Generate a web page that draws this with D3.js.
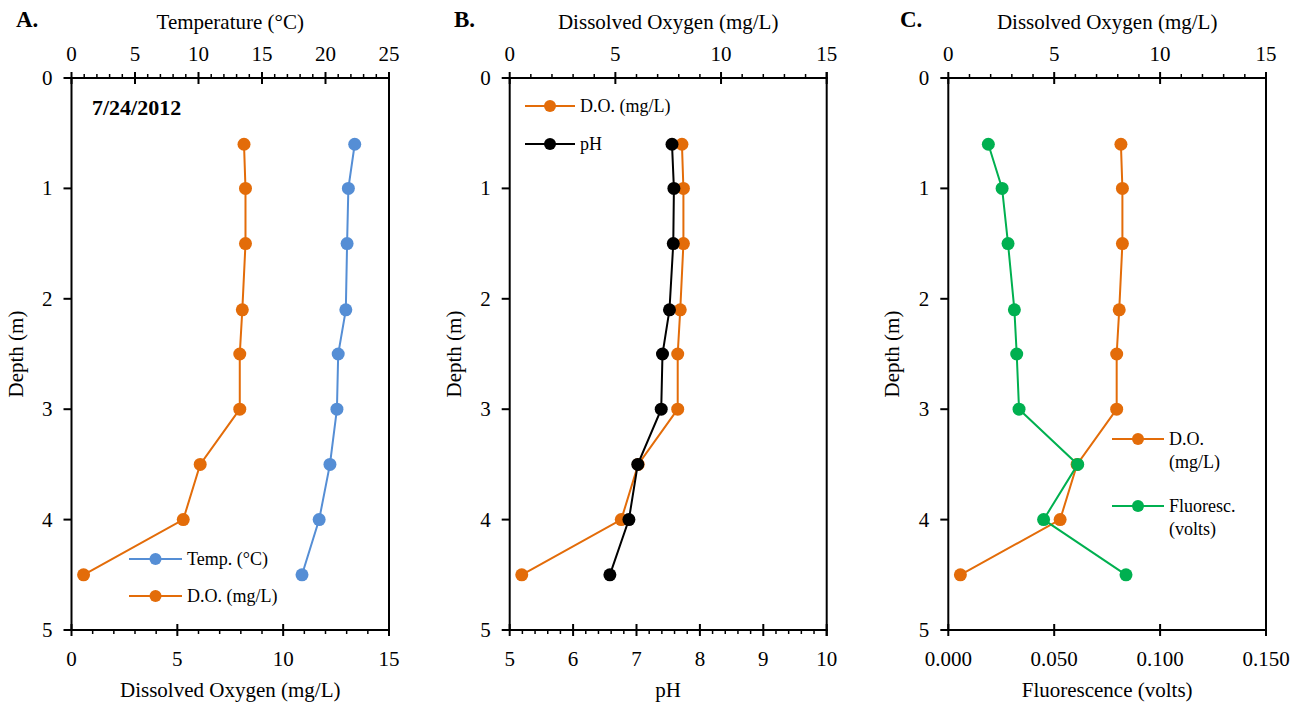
<!DOCTYPE html>
<html>
<head>
<meta charset="utf-8">
<script src="https://cdn.jsdelivr.net/npm/d3@7"></script>
<style>
  html, body { margin: 0; padding: 0; background: #fff; }
  svg { display: block; }
  svg text { font-family: 'Liberation Serif', 'DejaVu Serif', serif; }
</style>
</head>
<body>
<svg id="chart" width="1305" height="705" font-family="Liberation Serif, DejaVu Serif, serif"></svg>
<script>
// ---------- DATA ----------
const depth = [0.6, 1.0, 1.5, 2.1, 2.5, 3.0, 3.5, 4.0, 4.5];
const temperature = [22.3, 21.8, 21.7, 21.6, 21.0, 20.9, 20.35, 19.5, 18.15];
const dissolvedOxygen = [8.15, 8.22, 8.22, 8.07, 7.95, 7.95, 6.08, 5.28, 0.57];
const pH = [7.56, 7.59, 7.58, 7.52, 7.41, 7.39, 7.02, 6.88, 6.58];
const fluorescence = [0.0189, 0.0254, 0.0282, 0.0312, 0.0323, 0.0334, 0.0611, 0.0450, 0.0839];

const depthTicks = [0, 1, 2, 3, 4, 5];
const tempTicks = [0, 5, 10, 15, 20, 25];
const doTicks = [0, 5, 10, 15];
const pHTicks = [5, 6, 7, 8, 9, 10];
const fluorTicks = [0, 0.05, 0.10, 0.15];
const dateLabel = "7/24/2012";

const COLORS = { temp: "#558ED5", do: "#E36C09", ph: "#000000", fluor: "#00B050" };

// ---------- LAYOUT ----------
const svg = d3.select("#chart");
const plotTop = 78, plotBottom = 630;
const panels = [
  { left: 71.5, right: 389 },
  { left: 509.7, right: 826.7 },
  { left: 948.3, right: 1266 }
];
const yScale = d3.scaleLinear().domain([0, 5]).range([plotTop, plotBottom]);
const FS = 21, LFS = 18, MR = 6.5;

function range(a, b, step) {
  const out = [];
  for (let v = a; v <= b + 1e-9; v += step) out.push(+v.toFixed(6));
  return out;
}

function hAxis(scale, yPos, majors, minorStep, side, fmt) {
  const g = svg.append("g");
  const dir = side === "top" ? -1 : 1;
  g.append("line").attr("x1", scale.range()[0] - 1).attr("x2", scale.range()[1] + 1)
    .attr("y1", yPos).attr("y2", yPos).attr("stroke", "#000").attr("stroke-width", 2);
  if (minorStep) {
    const d = scale.domain();
    const minors = range(d[0], d[1], minorStep).filter(v => !majors.some(m => Math.abs(m - v) < 1e-9));
    g.selectAll(".mn").data(minors).enter().append("line")
      .attr("x1", d => scale(d)).attr("x2", d => scale(d))
      .attr("y1", yPos).attr("y2", yPos + dir * 4)
      .attr("stroke", "#000").attr("stroke-width", 1.5);
  }
  g.selectAll(".mj").data(majors).enter().append("line")
    .attr("x1", d => scale(d)).attr("x2", d => scale(d))
    .attr("y1", yPos - 6).attr("y2", yPos + 6)
    .attr("stroke", "#000").attr("stroke-width", 2);
  g.selectAll(".lb").data(majors).enter().append("text")
    .attr("x", d => scale(d)).attr("y", side === "top" ? yPos - 17 : yPos + 36)
    .attr("text-anchor", "middle").attr("font-size", FS).text(fmt);
}

function vAxis(p) {
  const g = svg.append("g");
  g.append("line").attr("x1", p.left).attr("x2", p.left).attr("y1", plotTop).attr("y2", plotBottom)
    .attr("stroke", "#000").attr("stroke-width", 2);
  g.append("line").attr("x1", p.right).attr("x2", p.right).attr("y1", plotTop - 6).attr("y2", plotBottom + 6)
    .attr("stroke", "#000").attr("stroke-width", 2);
  g.selectAll(".t").data(depthTicks).enter().append("line")
    .attr("x1", p.left - 8).attr("x2", p.left).attr("y1", d => yScale(d)).attr("y2", d => yScale(d))
    .attr("stroke", "#000").attr("stroke-width", 2);
  g.selectAll(".l").data(depthTicks).enter().append("text")
    .attr("x", p.left - 19).attr("y", d => yScale(d) + 7).attr("text-anchor", "end")
    .attr("font-size", FS).text(d => d);
  svg.append("text").attr("transform", `translate(${p.left - 49},${(plotTop + plotBottom) / 2}) rotate(-90)`)
    .attr("text-anchor", "middle").attr("font-size", FS).text("Depth (m)");
}

function series(xs, scale, color, r) {
  const pts = xs.map((v, i) => [scale(v), yScale(depth[i])]);
  const g = svg.append("g");
  g.append("path").attr("d", d3.line()(pts)).attr("fill", "none")
    .attr("stroke", color).attr("stroke-width", 2);
  g.selectAll("circle").data(pts).enter().append("circle")
    .attr("cx", d => d[0]).attr("cy", d => d[1]).attr("r", r).attr("fill", color);
}

function legendItem(x1, x2, yy, color, lines, r) {
  svg.append("line").attr("x1", x1).attr("x2", x2).attr("y1", yy).attr("y2", yy)
    .attr("stroke", color).attr("stroke-width", 2);
  svg.append("circle").attr("cx", (x1 + x2) / 2).attr("cy", yy).attr("r", r).attr("fill", color);
  lines.forEach((t, i) => {
    svg.append("text").attr("x", x2 + 5).attr("y", yy + 6 + i * 23).attr("font-size", LFS).text(t);
  });
}

function titles(p, letter, lx, topTitle, bottomTitle) {
  const cx = (p.left + p.right) / 2;
  svg.append("text").attr("x", lx).attr("y", 27).attr("font-size", 23).attr("font-weight", "bold").text(letter);
  svg.append("text").attr("x", cx).attr("y", 29).attr("text-anchor", "middle").attr("font-size", FS).text(topTitle);
  svg.append("text").attr("x", cx).attr("y", 697).attr("text-anchor", "middle").attr("font-size", FS).text(bottomTitle);
}

// ---------- PANEL A ----------
{
  const p = panels[0];
  const xT = d3.scaleLinear().domain([0, 25]).range([p.left, p.right]);
  const xD = d3.scaleLinear().domain([0, 15]).range([p.left, p.right]);
  vAxis(p);
  hAxis(xT, plotTop, tempTicks, 1, "top", d => d);
  hAxis(xD, plotBottom, doTicks, 1, "bottom", d => d);
  titles(p, "A.", 16, "Temperature (°C)", "Dissolved Oxygen (mg/L)");
  series(temperature, xT, COLORS.temp, MR);
  series(dissolvedOxygen, xD, COLORS.do, MR);
  svg.append("text").attr("x", 92).attr("y", 115).attr("font-size", 22).attr("font-weight", "bold").text(dateLabel);
  legendItem(129, 182, 559, COLORS.temp, ["Temp. (°C)"], 6);
  legendItem(129, 182, 596, COLORS.do, ["D.O. (mg/L)"], 6);
}

// ---------- PANEL B ----------
{
  const p = panels[1];
  const xD = d3.scaleLinear().domain([0, 15]).range([p.left, p.right]);
  const xP = d3.scaleLinear().domain([5, 10]).range([p.left, p.right]);
  vAxis(p);
  hAxis(xD, plotTop, doTicks, 1, "top", d => d);
  hAxis(xP, plotBottom, pHTicks, 0.2, "bottom", d => d);
  titles(p, "B.", 454, "Dissolved Oxygen (mg/L)", "pH");
  series(dissolvedOxygen, xD, COLORS.do, MR);
  series(pH, xP, COLORS.ph, MR);
  legendItem(525, 575, 106, COLORS.do, ["D.O. (mg/L)"], 6);
  legendItem(525, 575, 144, COLORS.ph, ["pH"], 6);
}

// ---------- PANEL C ----------
{
  const p = panels[2];
  const xD = d3.scaleLinear().domain([0, 15]).range([p.left, p.right]);
  const xF = d3.scaleLinear().domain([0, 0.15]).range([p.left, p.right]);
  vAxis(p);
  hAxis(xD, plotTop, doTicks, 1, "top", d => d);
  hAxis(xF, plotBottom, fluorTicks, 0, "bottom", d => d3.format(".3f")(d));
  titles(p, "C.", 900, "Dissolved Oxygen (mg/L)", "Fluorescence (volts)");
  series(dissolvedOxygen, xD, COLORS.do, MR);
  series(fluorescence, xF, COLORS.fluor, MR);
  legendItem(1112, 1164, 439, COLORS.do, ["D.O.", "(mg/L)"], 6);
  legendItem(1112, 1164, 506, COLORS.fluor, ["Fluoresc.", "(volts)"], 6);
}
</script>
</body>
</html>
